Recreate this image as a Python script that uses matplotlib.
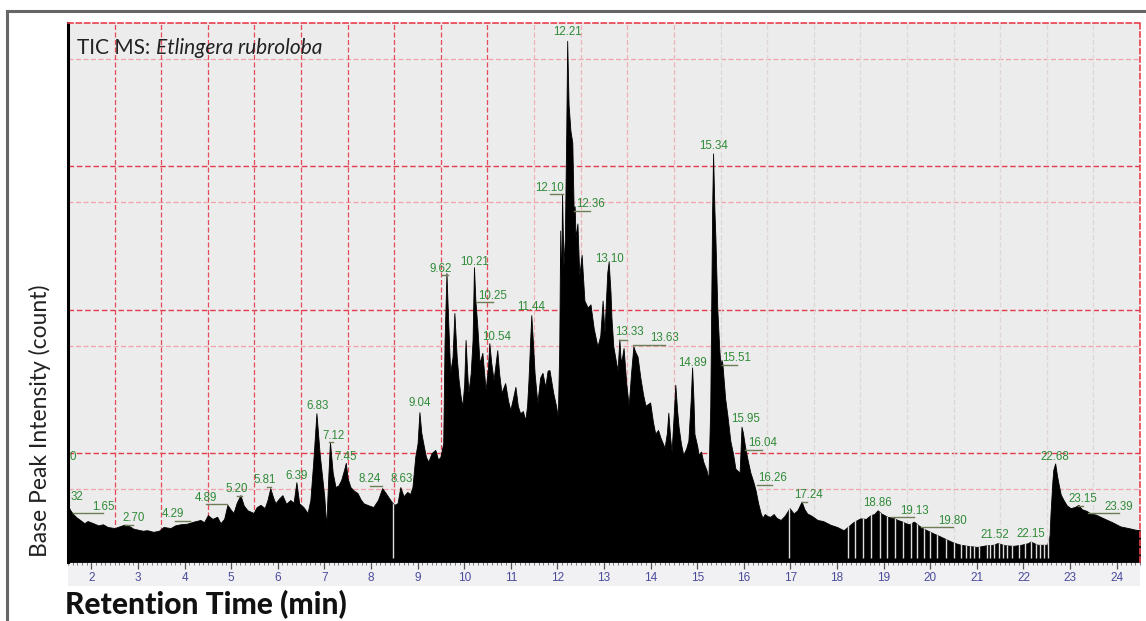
import numpy as np
import matplotlib
matplotlib.use("Agg")
import matplotlib.pyplot as plt
from matplotlib.ticker import MultipleLocator, FixedLocator
from matplotlib.lines import Line2D
from matplotlib.patches import Rectangle

# retention time (min) and base peak intensity (% of full scale)
rt = [1.50, 1.55, 1.60, 1.68, 1.76, 1.85, 1.92, 2.04, 2.15, 2.25, 2.35, 2.50, 2.60, 2.70, 2.77,
      2.90, 3.00, 3.10, 3.20, 3.33, 3.45, 3.55, 3.70, 3.80, 3.91, 4.05, 4.20, 4.34, 4.42, 4.50,
      4.60, 4.70, 4.77, 4.85, 4.92, 5.00, 5.05, 5.12, 5.20, 5.27, 5.35, 5.48, 5.55, 5.63, 5.72,
      5.78, 5.84, 5.90, 5.95, 6.03, 6.10, 6.18, 6.27, 6.34, 6.40, 6.46, 6.55, 6.64, 6.70, 6.76,
      6.83, 6.90, 6.96, 7.00, 7.04, 7.08, 7.12, 7.18, 7.24, 7.30, 7.36, 7.42, 7.46, 7.50, 7.56,
      7.64, 7.71, 7.78, 7.84, 7.95, 8.05, 8.15, 8.24, 8.30, 8.37, 8.44, 8.50, 8.57, 8.63, 8.70,
      8.78, 8.84, 8.89, 8.95, 9.00, 9.04, 9.08, 9.12, 9.18, 9.23, 9.30, 9.38, 9.44, 9.49, 9.55,
      9.58, 9.62, 9.66, 9.70, 9.75, 9.79, 9.84, 9.88, 9.92, 9.96, 10.00, 10.03, 10.06, 10.09, 10.14,
      10.18, 10.21, 10.24, 10.28, 10.33, 10.39, 10.46, 10.51, 10.54, 10.58, 10.63, 10.67, 10.71, 10.75, 10.80,
      10.88, 10.94, 10.99, 11.05, 11.10, 11.15, 11.20, 11.26, 11.31, 11.35, 11.38, 11.42, 11.44, 11.48, 11.51,
      11.57, 11.63, 11.68, 11.74, 11.79, 11.83, 11.91, 11.97, 12.01, 12.04, 12.06, 12.08, 12.10, 12.13, 12.16,
      12.19, 12.21, 12.24, 12.28, 12.32, 12.35, 12.37, 12.39, 12.43, 12.47, 12.52, 12.58, 12.65, 12.71, 12.78,
      12.86, 12.92, 12.97, 13.01, 13.05, 13.07, 13.10, 13.14, 13.16, 13.20, 13.25, 13.29, 13.33, 13.36, 13.39,
      13.42, 13.48, 13.53, 13.58, 13.63, 13.67, 13.72, 13.78, 13.84, 13.89, 13.99, 14.05, 14.10, 14.16, 14.21,
      14.30, 14.35, 14.38, 14.42, 14.45, 14.50, 14.53, 14.57, 14.60, 14.65, 14.70, 14.76, 14.81, 14.86, 14.89,
      14.92, 14.94, 15.00, 15.03, 15.08, 15.13, 15.20, 15.24, 15.28, 15.32, 15.34, 15.37, 15.39, 15.43, 15.47,
      15.50, 15.52, 15.54, 15.60, 15.65, 15.71, 15.77, 15.82, 15.91, 15.95, 15.98, 16.03, 16.08, 16.14, 16.20,
      16.25, 16.31, 16.36, 16.40, 16.45, 16.51, 16.57, 16.64, 16.70, 16.79, 16.88, 16.98, 17.07, 17.15, 17.24,
      17.30, 17.36, 17.45, 17.58, 17.70, 17.86, 18.00, 18.14, 18.24, 18.35, 18.50, 18.62, 18.72, 18.80, 18.87,
      18.95, 19.08, 19.20, 19.30, 19.40, 19.47, 19.55, 19.65, 19.75, 19.85, 19.95, 20.07, 20.20, 20.37, 20.50,
      20.65, 20.80, 21.01, 21.20, 21.35, 21.44, 21.60, 21.79, 21.95, 22.10, 22.15, 22.30, 22.51, 22.56, 22.58,
      22.62, 22.64, 22.68, 22.72, 22.75, 22.80, 22.86, 22.93, 23.01, 23.10, 23.18, 23.25, 23.35, 23.44, 23.55,
      23.72, 23.90, 24.08, 24.25, 24.40, 24.50]
intensity = [10.4, 9.6, 9.0, 8.3, 7.8, 7.2, 7.6, 7.2, 6.8, 7.0, 6.5, 6.3, 6.6, 6.9, 6.9,
             6.2, 6.0, 5.8, 5.9, 5.6, 5.8, 6.5, 6.3, 6.8, 7.0, 7.1, 7.5, 7.8, 7.4, 8.7,
             8.0, 8.4, 7.2, 8.0, 10.6, 9.6, 9.1, 11.0, 12.4, 10.5, 9.6, 9.1, 10.2, 10.6, 10.0,
             11.5, 13.7, 12.0, 10.9, 11.8, 12.4, 10.8, 11.5, 11.0, 14.8, 10.9, 10.2, 9.1, 11.5, 18.4,
             27.6, 20.0, 15.2, 12.0, 6.5, 15.0, 22.3, 16.5, 13.9, 14.2, 15.2, 17.0, 18.4, 15.5, 13.9,
             13.2, 12.8, 11.6, 10.9, 10.5, 10.2, 11.5, 13.7, 13.0, 12.1, 11.2, 10.6, 10.9, 13.9, 12.2,
             13.0, 12.6, 13.9, 19.5, 22.0, 27.8, 24.0, 22.1, 19.5, 18.6, 20.2, 20.8, 19.0, 19.5, 22.0,
             41.2, 53.6, 44.0, 35.1, 38.0, 46.2, 38.0, 33.8, 31.0, 28.8, 33.0, 41.2, 36.0, 31.4, 35.0,
             41.2, 54.7, 48.6, 44.0, 36.9, 38.8, 31.9, 36.0, 40.6, 37.0, 33.8, 36.5, 39.3, 35.0, 31.4,
             33.2, 30.0, 28.2, 30.5, 32.5, 29.0, 27.6, 28.0, 26.3, 29.0, 33.8, 42.0, 45.8, 40.0, 35.1,
             29.5, 34.2, 35.1, 32.5, 35.5, 35.6, 31.4, 29.0, 27.0, 40.0, 61.5, 50.0, 68.3, 55.0, 60.0,
             79.7, 96.7, 84.9, 80.0, 77.8, 64.8, 66.0, 60.2, 62.8, 53.1, 57.0, 48.5, 47.2, 47.8, 43.3,
             40.0, 42.0, 48.5, 42.6, 50.0, 53.7, 55.7, 50.0, 45.3, 40.0, 37.5, 35.5, 41.3, 37.0, 38.1,
             39.7, 32.9, 29.0, 35.0, 40.0, 39.0, 38.1, 34.2, 31.0, 29.0, 29.6, 26.0, 23.8, 24.5, 23.1,
             21.2, 24.0, 27.7, 23.0, 20.5, 28.0, 32.9, 28.0, 25.1, 22.0, 19.9, 21.0, 22.5, 30.0, 36.1,
             30.0, 23.8, 21.5, 19.9, 20.5, 18.6, 17.0, 15.3, 29.0, 65.4, 75.8, 65.0, 60.2, 47.2, 40.0,
             36.1, 37.5, 36.8, 30.3, 27.0, 22.5, 20.0, 17.3, 16.6, 25.1, 24.0, 21.2, 19.0, 16.6, 15.0,
             13.4, 10.8, 9.1, 8.2, 8.9, 8.5, 8.4, 8.9, 8.2, 7.8, 8.6, 10.0, 9.0, 9.6, 11.2,
             9.8, 9.0, 8.6, 7.8, 7.6, 6.9, 6.5, 5.9, 6.6, 7.4, 8.1, 8.0, 8.7, 8.9, 9.6,
             9.0, 8.4, 8.2, 7.8, 7.5, 7.2, 7.0, 7.5, 6.8, 6.2, 5.8, 5.3, 4.8, 4.1, 3.6,
             3.2, 3.0, 2.8, 3.1, 3.2, 3.5, 3.1, 3.0, 3.2, 3.5, 3.8, 3.2, 3.2, 5.0, 9.0,
             15.0, 17.1, 18.3, 16.0, 14.6, 12.5, 11.5, 10.5, 10.0, 10.2, 10.6, 9.8, 9.5, 9.0, 8.8,
             8.1, 7.4, 6.6, 6.3, 6.0, 5.9]

# short signal drop-outs seen as pale stripes through the trace
dropouts = [8.48, 16.97, 18.23, 18.38, 18.55, 18.72, 18.92, 19.08, 19.25, 19.42, 19.59, 19.72,
            19.86, 20.00, 20.15, 20.33, 20.50, 20.67, 20.76, 20.86, 20.93, 21.04, 21.22, 21.29,
            21.36, 21.47, 21.56, 21.65, 21.76, 21.90, 22.04, 22.16, 22.26, 22.35, 22.44, 22.52]

# peak labels as printed on the chromatogram
peak_labels = ["0", "32", "1.65", "2.70", "4.29", "4.89", "5.20", "5.81", "6.39", "6.83",
               "7.12", "7.45", "8.24", "8.63", "9.04", "9.62", "10.21", "10.25", "10.54", "11.44",
               "12.21", "12.10", "12.36", "13.10", "15.34", "13.33", "13.63", "14.89", "15.51", "15.95",
               "16.04", "16.26", "17.24", "18.86", "19.13", "19.80", "21.52", "22.15", "22.68", "23.15",
               "23.39"]
label_x = [1.61, 1.70, 2.26, 2.90, 3.76, 4.45, 5.13, 5.73, 6.40, 6.85,
           7.19, 7.45, 7.97, 8.65, 9.04, 9.49, 10.22, 10.61, 10.69, 11.44,
           12.21, 11.83, 12.71, 13.12, 15.35, 13.55, 14.30, 14.90, 15.84, 16.03,
           16.40, 16.61, 17.39, 18.87, 19.66, 20.48, 21.38, 22.15, 22.67, 23.27,
           24.04]
label_y = [19.5, 12.1, 10.2, 8.2, 8.9, 11.9, 13.5, 15.2, 16.0, 28.9,
           23.4, 19.5, 15.4, 15.4, 29.5, 54.4, 55.7, 49.4, 41.7, 47.3,
           98.3, 69.4, 66.4, 56.2, 77.2, 42.7, 41.5, 36.9, 37.8, 26.5,
           22.1, 15.6, 12.4, 10.9, 9.5, 7.6, 5.0, 5.2, 19.5, 11.7,
           10.2]
# leader lines under some labels: (x0, x1, y)
leaders = [(1.61, 2.26, 9.1), (2.73, 2.90, 6.9), (3.80, 4.12, 7.6), (4.47, 4.92, 10.8),
           (5.13, 5.24, 12.2), (5.76, 5.86, 13.9), (7.11, 7.19, 22.3), (7.97, 8.24, 14.1),
           (9.53, 9.66, 53.2), (10.26, 10.61, 48.2), (11.85, 12.11, 68.3), (12.36, 12.69, 65.1),
           (13.33, 13.50, 41.2), (13.63, 14.30, 40.2), (15.54, 15.86, 36.5), (16.03, 16.40, 20.8),
           (16.29, 16.61, 14.3), (17.24, 17.35, 11.2), (19.15, 19.66, 8.3), (19.81, 20.48, 6.5),
           (23.16, 23.27, 10.4), (23.39, 24.06, 9.1)]

xticks = list(range(2, 25))
grid_dark = [20.2, 46.8, 73.5]
grid_light = [13.5, 40.1, 66.8, 93.3]
grid_vert = [x + 0.5 for x in range(2, 24)]

W, H = 1146, 621
fig = plt.figure(figsize=(W / 100, H / 100), dpi=100)
fig.patch.set_facecolor("white")
ax = fig.add_axes([68 / W, 1 - 562 / H, (1140 - 68) / W, (562 - 23) / H])
ax.set_facecolor("#ececec")

# outer frame (cut by the image edges)
fig.add_artist(Line2D([7 / W, 1], [1 - 11 / H, 1 - 11 / H], color="#666666", lw=2.2))
fig.add_artist(Line2D([7 / W, 7 / W], [0, 1 - 11 / H], color="#666666", lw=2.2))
# pale band behind the tick labels
fig.add_artist(Rectangle((68 / W, 1 - 586 / H), (1140 - 68) / W, 24 / H,
                         transform=fig.transFigure, facecolor="#f1f1f3", edgecolor="none", zorder=0))

for g in grid_light:
    ax.axhline(g, color="#f0a3aa", lw=0.9, dashes=(4, 2), zorder=1)
for g in grid_dark:
    ax.axhline(g, color="#e23c4c", lw=1.0, dashes=(4, 2), zorder=1)
for g in grid_vert:
    if g <= 10.5:
        c = "#e54a58"
    elif g <= 14.5:
        c = "#f0b0b6"
    else:
        c = "#e0d6d8"
    ax.axvline(g, color=c, lw=0.9, dashes=(4, 2), zorder=1)

poly = ax.fill_between(rt, 0, intensity, color="black", lw=0.6, zorder=2)
stripes = ax.vlines(dropouts, 0.8, 60, color="#dedede", lw=1.0, zorder=3)
stripes.set_clip_path(poly.get_paths()[0], ax.transData)

for txt, x, y in zip(peak_labels, label_x, label_y):
    ax.text(x, y, txt, ha="center", va="center", fontsize=8.3, color="#2f8a37",
            family="Liberation Sans", zorder=5)
for x0, x1, y in leaders:
    ax.plot([x0, x1], [y, y], color="#6e7d55", lw=1.0, zorder=4)

t1 = ax.text(0.0084, 0.954, "TIC MS: ", transform=ax.transAxes, ha="left", va="center",
             fontsize=15, family="Lato", color="#222222", zorder=6)
ax.annotate("Etlingera rubroloba", xy=(1, 0), xycoords=t1, ha="left", va="bottom",
            fontsize=15, family="Lato", style="italic", color="#222222", zorder=6)

ax.set_xlim(1.5, 24.5)
ax.set_ylim(0, 100)
ax.xaxis.set_major_locator(FixedLocator(xticks))
ax.xaxis.set_minor_locator(MultipleLocator(0.1))
ax.set_xticklabels([str(t) for t in xticks])
ax.set_yticks([])
ax.tick_params(axis="x", which="major", length=5, width=0.9, color="#555555",
               labelcolor="#4a4a9c", labelsize=8.5, pad=2)
ax.tick_params(axis="x", which="minor", length=2.5, width=0.6, color="#666666")
for lab in ax.get_xticklabels():
    lab.set_family("Liberation Sans")

ax.spines["bottom"].set_visible(False)
ax.spines["left"].set_color("black")
ax.spines["left"].set_linewidth(2.2)
for s in ("top", "right"):
    ax.spines[s].set_color("#e8404e")
    ax.spines[s].set_linewidth(1.2)
    ax.spines[s].set_linestyle((0, (3, 2)))

fig.text(40 / W, 1 - 421 / H, "Base Peak Intensity (count)", rotation=90, ha="center", va="center",
         fontsize=16.5, family="Lato", color="#222222")
fig.text(65 / W, 1 - 605 / H, "Retention Time (min)", ha="left", va="center",
         fontsize=21.5, family="Lato", fontweight="black", color="#111111")

fig.savefig("out.png", dpi=100)
